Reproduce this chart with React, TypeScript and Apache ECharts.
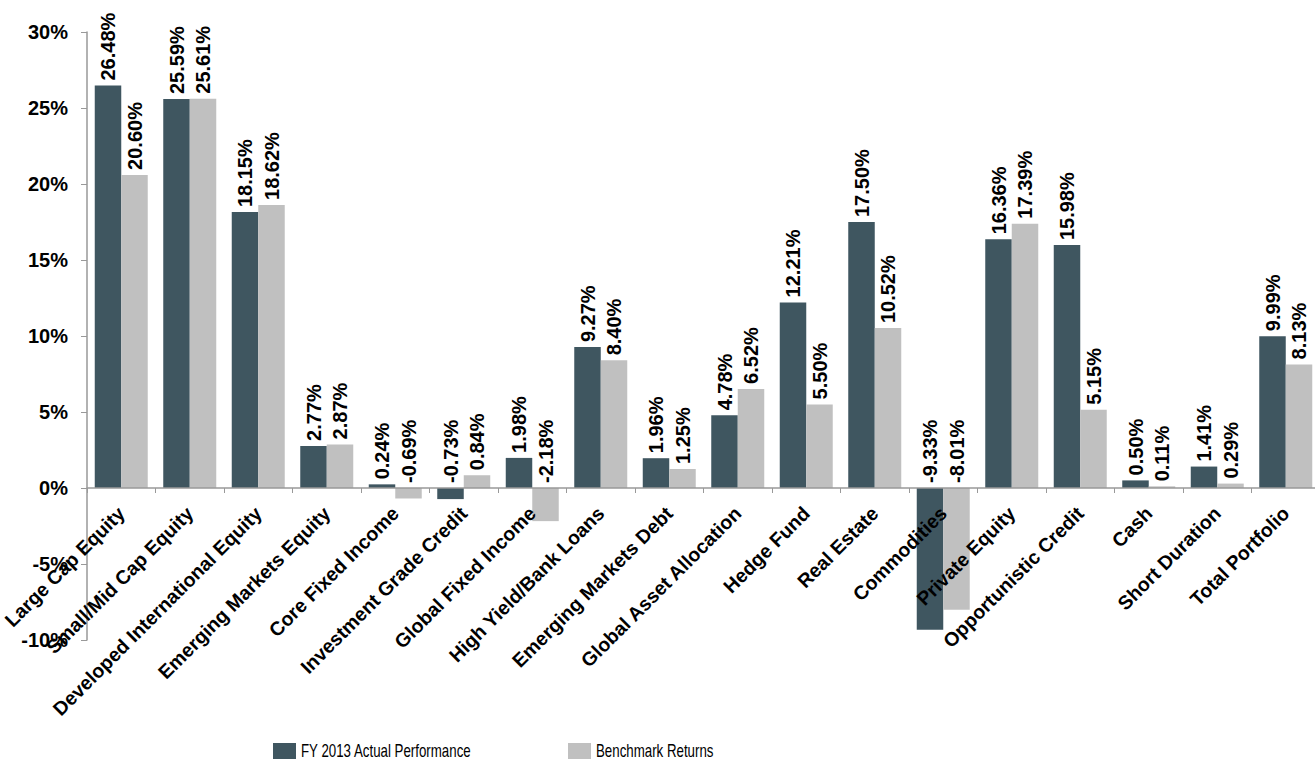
import React, { useEffect, useRef } from "react";
import * as echarts from "echarts";

const categories = [
  "Large Cap Equity",
  "Small/Mid Cap Equity",
  "Developed International Equity",
  "Emerging Markets Equity",
  "Core Fixed Income",
  "Investment Grade Credit",
  "Global Fixed Income",
  "High Yield/Bank Loans",
  "Emerging Markets Debt",
  "Global Asset Allocation",
  "Hedge Fund",
  "Real Estate",
  "Commodities",
  "Private Equity",
  "Opportunistic Credit",
  "Cash",
  "Short Duration",
  "Total Portfolio",
];

const actual = [26.48, 25.59, 18.15, 2.77, 0.24, -0.73, 1.98, 9.27, 1.96, 4.78, 12.21, 17.5, -9.33, 16.36, 15.98, 0.5, 1.41, 9.99];
const benchmark = [20.6, 25.61, 18.62, 2.87, -0.69, 0.84, -2.18, 8.4, 1.25, 6.52, 5.5, 10.52, -8.01, 17.39, 5.15, 0.11, 0.29, 8.13];

const seriesNames = ["FY 2013 Actual Performance", "Benchmark Returns"];

const DARK = "#3f5660";
const LIGHT = "#c0c0c0";
const BOLD_FONT = "'Liberation Sans', Arial, sans-serif";
const LEGEND_FONT = "'Liberation Sans Narrow', 'Arial Narrow', 'Liberation Sans', Arial, sans-serif";

export default function App() {
  const ref = useRef<HTMLDivElement>(null);
  useEffect(() => {
    if (!ref.current) return;
    const chart = echarts.init(ref.current, undefined, { renderer: "svg" });
    const labelCfg = {
      show: true,
      position: "top" as const,
      rotate: 90,
      align: "left" as const,
      verticalAlign: "middle" as const,
      distance: 5,
      fontFamily: BOLD_FONT,
      fontWeight: "bold" as const,
      fontSize: 20,
      color: "#000",
      formatter: (p: any) => Number(p.value).toFixed(2) + "%",
    };
    const legendItem = (x: number, color: string, text: string) => ({
      type: "group",
      left: x,
      top: 742,
      children: [
        { type: "rect", shape: { x: 0, y: 0, width: 23, height: 16 }, style: { fill: color } },
        {
          type: "text",
          x: 28,
          y: 8,
          scaleX: 0.76,
          style: {
            text,
            fontSize: 17.5,
            fontFamily: LEGEND_FONT,
            fill: "#000",
            verticalAlign: "middle",
          },
        },
      ],
    });
    chart.setOption({
      animation: false,
      backgroundColor: "#fff",
      grid: { left: 87, right: -5, top: 32, bottom: 121, containLabel: false, outerBoundsMode: "none" },
      legend: { show: false, data: seriesNames },
      graphic: [legendItem(273, DARK, seriesNames[0]), legendItem(568, LIGHT, seriesNames[1])],
      xAxis: {
        type: "category",
        data: categories,
        offset: -152,
        z: 5,
        axisLine: { onZero: false, lineStyle: { color: "#999", width: 1.5 } },
        axisTick: { show: true, length: 5, alignWithLabel: false, lineStyle: { color: "#999" } },
        axisLabel: {
          rotate: 45,
          interval: 0,
          margin: 22,
          fontFamily: BOLD_FONT,
          fontWeight: "bold",
          fontSize: 19.5,
          color: "#000",
        },
      },
      yAxis: {
        type: "value",
        min: -10,
        max: 30,
        interval: 5,
        z: 5,
        splitLine: { show: false },
        axisLine: { show: true, lineStyle: { color: "#999", width: 1.5 } },
        axisTick: { show: true, length: 6, lineStyle: { color: "#999" } },
        axisLabel: {
          formatter: "{value}%",
          margin: 19,
          fontFamily: BOLD_FONT,
          fontWeight: "bold",
          fontSize: 20,
          color: "#000",
        },
      },
      series: [
        {
          name: seriesNames[0],
          type: "bar",
          data: actual,
          barWidth: 26.5,
          barGap: "0%",
          itemStyle: { color: DARK },
          label: labelCfg,
        },
        {
          name: seriesNames[1],
          type: "bar",
          data: benchmark,
          barWidth: 26.5,
          barGap: "0%",
          itemStyle: { color: LIGHT },
          label: labelCfg,
        },
      ],
    });
    return () => chart.dispose();
  }, []);
  return (
    <div
      ref={ref}
      style={{ position: "fixed", left: 0, top: 0, width: 1315, height: 761 }}
    />
  );
}
